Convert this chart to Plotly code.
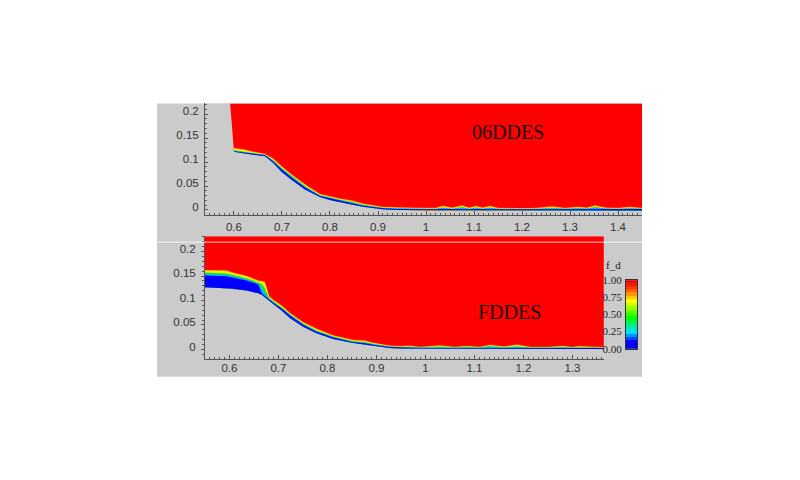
import plotly.graph_objects as go

# top panel (06DDES)
x_top = [0.60, 0.62, 0.637, 0.665, 0.682, 0.699, 0.72, 0.748, 0.779, 0.80, 0.821, 0.845, 0.869, 0.89, 0.91, 0.94, 0.97, 1.00, 1.02, 1.035,
         1.055, 1.075, 1.09, 1.104, 1.118, 1.133, 1.15, 1.17, 1.19, 1.21, 1.23, 1.2625, 1.29, 1.317, 1.335, 1.352, 1.375, 1.40, 1.425, 1.45]
wall_top = [.1216, .119, .116, .112, .098, .080, .063, .043, .027, .021, .016, .0115, .007, .004, .0015, 0, -.0005, -.001, -.001, -.001,
            -.001, -.001, -.001, -.001, -.001, -.001, -.001, -.001, -.001, -.001, -.001, -.001, -.001, -.001, -.001, -.001, -.001, -.001, -.001, -.001]
blue_top = [.001, .001, .0012, .002, .003, .005, .005, .004, .002, .003, .004, .003, .002, .002, .002, .002, .002, .0025, .0025, .003,
            .0025, .003, .0025, .003, .0025, .003, .0025, .0025, .0025, .0025, .0025, .003, .0025, .003, .003, .004, .003, .0025, .003, .003]
cyan_top = [.002, .002, .002, .0025, .004, .006, .006, .005, .003, .004, .005, .004, .003, .003, .0025, .003, .0025, .003, .003, .0045,
            .003, .005, .003, .0045, .003, .0045, .003, .003, .003, .003, .003, .004, .003, .004, .0035, .0055, .0035, .003, .0038, .0035]
green_top = [.0035, .0035, .003, .003, .006, .008, .008, .007, .004, .005, .0055, .0055, .004, .004, .003, .0035, .003, .0035, .0035, .006,
             .0038, .007, .0038, .006, .0038, .006, .0035, .004, .0033, .0033, .0035, .0055, .0035, .005, .004, .0075, .004, .0035, .005, .0038]
yellow_top = [.0065, .0065, .0055, .004, .008, .0105, .0105, .0095, .0055, .0065, .007, .0075, .0055, .005, .004, .0045, .004, .0045, .0045, .0085,
              .005, .0095, .005, .0085, .005, .0085, .0045, .005, .004, .004, .0045, .0075, .0045, .0065, .005, .0095, .005, .0045, .0065, .0045]

# bottom panel (FDDES)
x_bot = [.55, .581, .594, .608, .635, .659, .666, .672, .6765, .681, .689, .7065, .7235, .7506, .778, .812, .853, .875, .893, .9276, .95, .968,
         .99, 1.03, 1.06, 1.085, 1.11, 1.1316, 1.16, 1.187, 1.215, 1.25, 1.28, 1.30, 1.315, 1.34, 1.364]
wall_bot = [.1274, .126, .125, .124, .1206, .115, .112, .108, .104, .100, .093, .0795, .0645, .0466, .033, .0214, .013, .010, .0076, .003, .002, .0015,
            .001, .001, .001, .001, .001, .001, .001, .001, .001, .001, .001, .001, .001, .001, .001]
blue_bot = [.024, .024, .0245, .0227, .0204, .018, .003, .002, .002, .002, .003, .004, .005, .004, .003, .003, .002, .003, .002, .002, .002, .002,
            .002, .002, .002, .0025, .002, .003, .002, .002, .002, .002, .0025, .002, .002, .002, .002]
cyan_bot = [.027, .027, .027, .0255, .0225, .020, .012, .009, .004, .003, .004, .005, .006, .005, .004, .004, .003, .004, .003, .0025, .0025, .003,
            .0025, .0035, .0025, .0035, .0025, .0045, .003, .004, .0025, .0025, .0035, .0025, .003, .0025, .0022]
green_bot = [.030, .030, .030, .028, .025, .022, .022, .018, .010, .005, .006, .007, .0075, .0065, .006, .005, .004, .0055, .004, .003, .003, .004,
             .003, .005, .003, .0045, .003, .006, .0035, .0055, .003, .003, .0045, .003, .004, .003, .0025]
yellow_bot = [.034, .0355, .0355, .032, .0288, .0247, .027, .0297, .020, .008, .008, .0095, .0095, .0085, .0085, .0065, .0055, .0075, .0055, .004, .004, .0055,
              .0035, .0065, .0035, .0055, .0035, .0075, .0045, .008, .0035, .0035, .0055, .0035, .005, .0035, .003]

# first edge of the red region ahead of the wall in the top panel
inflow_x = [0.592]

ticks_x_top = [0.6, 0.7, 0.8, 0.9, 1, 1.1, 1.2, 1.3, 1.4]
ticks_x_bot = [0.6, 0.7, 0.8, 0.9, 1, 1.1, 1.2, 1.3]
ticks_y = [0, 0.05, 0.1, 0.15, 0.2]
tick_labels_y = ["0", "0.05", "0.1", "0.15", "0.2"]

cbar_levels = [0.0, 0.05, 0.1, 0.15, 0.2, 0.25, 0.3, 0.35, 0.4, 0.45, 0.5, 0.55, 0.6, 0.65, 0.7, 0.75, 0.8, 0.85, 0.9, 0.95, 1.0]
cbar_ticks = [0, 0.25, 0.5, 0.75, 1]
cbar_labels = ["0.00", "0.25", "0.50", "0.75", "1.00"]

RED = "#ff0000"
ORANGE = "#ff9000"
YELLOW = "#e8f000"
GREEN = "#20e040"
CYAN = "#00b4ff"
BLUE = "#0000ff"
GRAY = "#cbcbcb"
AXIS = "#555555"
colorscale = [[0, "#0000e0"], [0.1, BLUE], [0.25, "#00e0ff"], [0.45, "#00ff00"], [0.7, "#ffff00"], [0.88, "#ff4000"], [1, "#e00000"]]

range_x_top = [0.5396, 1.45]
range_y_top = [-0.0105, 0.2222]
range_x_bot = [0.5502, 1.3645]
range_y_bot = [-0.019, 0.2316]


# page pixels of the reference to paper fractions (the page adds its own offset)
def px(p):
    return (p - 8) / 800


def py(p):
    return 1 - (p - 15) / (0.97 * 480)


def band(fig, x, lower, upper, color, xa, ya):
    fig.add_trace(go.Scatter(x=list(x) + list(x)[::-1], y=list(upper) + list(lower)[::-1],
                             mode="lines", fill="toself", fillcolor=color, line=dict(width=0),
                             xaxis=xa, yaxis=ya, hoverinfo="skip", showlegend=False))


def panel(fig, x, wall, layers, top_edge_x, xa, ya, y_max):
    # red fills everything from the wall up to the top of the frame
    red_x = [top_edge_x] + list(x) + [x[-1]]
    red_y = [y_max] + list(wall) + [y_max]
    fig.add_trace(go.Scatter(x=red_x, y=red_y, mode="lines", fill="toself", fillcolor=RED, line=dict(width=0),
                             xaxis=xa, yaxis=ya, hoverinfo="skip", showlegend=False))
    blue, cyan, green, yellow = layers
    band(fig, x, wall, [w + t + 0.0012 for w, t in zip(wall, yellow)], ORANGE, xa, ya)
    band(fig, x, wall, [w + t for w, t in zip(wall, yellow)], YELLOW, xa, ya)
    band(fig, x, wall, [w + t for w, t in zip(wall, green)], GREEN, xa, ya)
    band(fig, x, wall, [w + t for w, t in zip(wall, cyan)], CYAN, xa, ya)
    band(fig, x, wall, [w + t for w, t in zip(wall, blue)], BLUE, xa, ya)


fig = go.Figure()
panel(fig, x_top, wall_top, (blue_top, cyan_top, green_top, yellow_top), inflow_x[0], "x", "y", range_y_top[1])
panel(fig, x_bot, wall_bot, (blue_bot, cyan_bot, green_bot, yellow_bot), x_bot[0], "x2", "y2", range_y_bot[1])

fig.add_trace(go.Heatmap(x=[0], y=cbar_levels, z=[[v] for v in cbar_levels], colorscale=colorscale,
                         zmin=0, zmax=1, showscale=False, hoverinfo="skip", xaxis="x3", yaxis="y3"))

tick_font = dict(family="Liberation Sans", size=11.5, color="#333333")
x_style = dict(showgrid=False, zeroline=False, showline=True, linecolor=AXIS, linewidth=1, ticks="inside", ticklen=4,
               tickcolor=AXIS, tickfont=tick_font, minor=dict(dtick=0.01, ticks="inside", ticklen=2, tickcolor=AXIS))
y_style = dict(showgrid=False, zeroline=False, showline=True, linecolor=AXIS, linewidth=1, ticklen=3,
               tickcolor=AXIS, tickfont=tick_font, tickvals=ticks_y, ticktext=tick_labels_y, ticklabelshift=-3,
               ticklabelstandoff=3)

fig.update_layout(
    width=800, height=480, margin=dict(l=0, r=0, t=0, b=0),
    paper_bgcolor="white", plot_bgcolor=GRAY, showlegend=False,
    xaxis=dict(domain=[px(205), px(642)], range=range_x_top, anchor="y", tickvals=ticks_x_top, ticklabelstandoff=1, **x_style),
    yaxis=dict(domain=[py(215), py(104)], range=range_y_top, anchor="x", ticks="inside",
               minor=dict(dtick=0.01, ticks="inside", ticklen=2, tickcolor=AXIS), **y_style),
    xaxis2=dict(domain=[px(205), px(604)], range=range_x_bot, anchor="y2", tickvals=ticks_x_bot, ticklabelstandoff=-2, **x_style),
    yaxis2=dict(domain=[py(358), py(236)], range=range_y_bot, anchor="x2", ticks="outside",
                minor=dict(dtick=0.01, ticks="outside", ticklen=2, tickcolor=AXIS), **y_style),
    xaxis3=dict(domain=[px(626), px(637)], anchor="y3", showticklabels=False, ticks="", showgrid=False, zeroline=False,
                showline=True, mirror=True, linecolor="#333333", linewidth=1, range=[-0.5, 0.5]),
    yaxis3=dict(domain=[py(348), py(280)], anchor="x3", range=[0, 1], tickvals=cbar_ticks, ticktext=cbar_labels,
                ticks="", showgrid=False, zeroline=False, showline=True, mirror=True, linecolor="#333333", linewidth=1,
                ticklabelstandoff=1, tickfont=dict(family="Liberation Serif", size=11, color="#222222")),
    shapes=[
        dict(type="rect", xref="paper", yref="paper", x0=px(157), x1=px(642), y0=py(376), y1=py(104),
             fillcolor=GRAY, line=dict(width=0), layer="below"),
        dict(type="line", xref="paper", yref="paper", x0=px(157), x1=px(642), y0=py(242), y1=py(242),
             line=dict(color="#ffffff", width=1), opacity=0.8, layer="above"),
    ],
    annotations=[
        dict(text="06DDES", xref="paper", yref="paper", x=px(508), y=py(119), showarrow=False,
             font=dict(family="Liberation Serif", size=20, color="#111111")),
        dict(text="FDDES", xref="paper", yref="paper", x=px(509), y=py(311), showarrow=False,
             font=dict(family="Liberation Serif", size=20, color="#111111")),
        dict(text="f_d", xref="paper", yref="paper", x=px(623), y=py(265), showarrow=False,
             font=dict(family="Liberation Serif", size=11, color="#222222")),
    ],
)

fig.write_html("out.html")
